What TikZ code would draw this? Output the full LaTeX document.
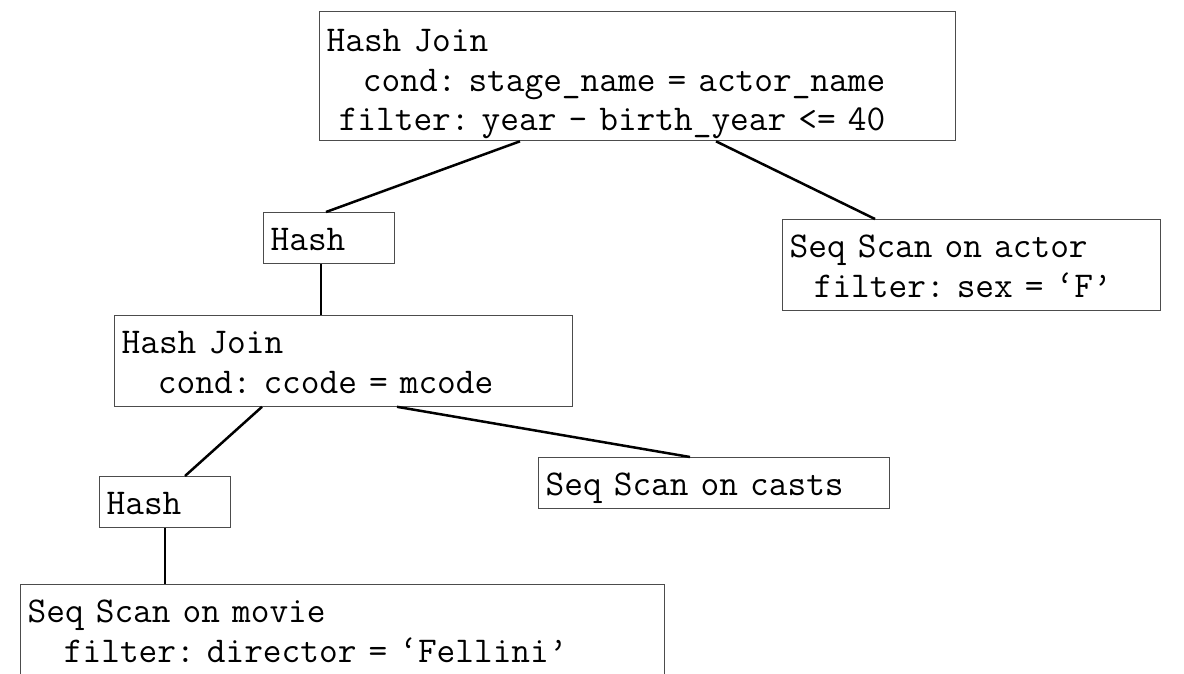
\documentclass[tikz,border=0pt]{standalone}
\usepackage{fontspec}
\usetikzlibrary{positioning}

\newcommand{\firstrow}[1][38pt]{\rule{0pt}{#1}}
\newcommand{\lastrow}[1][13pt]{\rule[-#1]{0pt}{0pt}}
\newcommand{\fixspace}{\frenchspacing\spaceskip=0.525em\relax\xspaceskip=0.525em\relax}

\tikzset{
  op/.style={draw=black!70, line width=1.3pt, rectangle, anchor=north west,
    inner xsep=7pt, inner ysep=0pt, align=left,
    font=\ttfamily\fontsize{36.3pt}{39.5pt}\selectfont\fixspace},
  link/.style={line width=2.5pt}
}

\begin{document}
\begin{tikzpicture}[x=1pt,y=-1pt]
\useasboundingbox (0,0) rectangle (1184,673);
% plan operators
\node[op, text width=622pt] (join1) at (319,11) {\firstrow[40pt]Hash Join\\\mbox{}~~~cond: stage\_name = actor\_name\\\mbox{}~filter: year - birth\_year <= 40\lastrow[10pt]};
\node[op, text width=117pt] (hash1) at (263,212) {\firstrow Hash\lastrow};
\node[op, text width=364pt] (actor) at (782,219) {\firstrow Seq Scan on actor\\\mbox{}~~filter: sex = ‘F’\lastrow};
\node[op, text width=444pt] (join2) at (114,315) {\firstrow Hash Join\\\mbox{}~~~cond: ccode = mcode\lastrow};
\node[op, text width=337pt] (casts) at (538,457) {\firstrow Seq Scan on casts\lastrow};
\node[op, text width=117pt] (hash2) at (99,476) {\firstrow Hash\lastrow};
\node[op, text width=630pt] (movie) at (20,584) {\firstrow Seq Scan on movie\\\mbox{}~~~filter: director = ‘Fellini’\lastrow};
% edges
\draw[link] ([xshift=201pt]join1.south west) -- ([xshift=63pt]hash1.north west);
\draw[link] ([xshift=397pt]join1.south west) -- ([xshift=93pt]actor.north west);
\draw[link] ([xshift=58pt]hash1.south west) -- ([xshift=207pt]join2.north west);
\draw[link] ([xshift=148pt]join2.south west) -- ([xshift=86pt]hash2.north west);
\draw[link] ([xshift=283pt]join2.south west) -- ([xshift=152pt]casts.north west);
\draw[link] ([xshift=66pt]hash2.south west) -- ([xshift=145pt]movie.north west);
\end{tikzpicture}
\end{document}
